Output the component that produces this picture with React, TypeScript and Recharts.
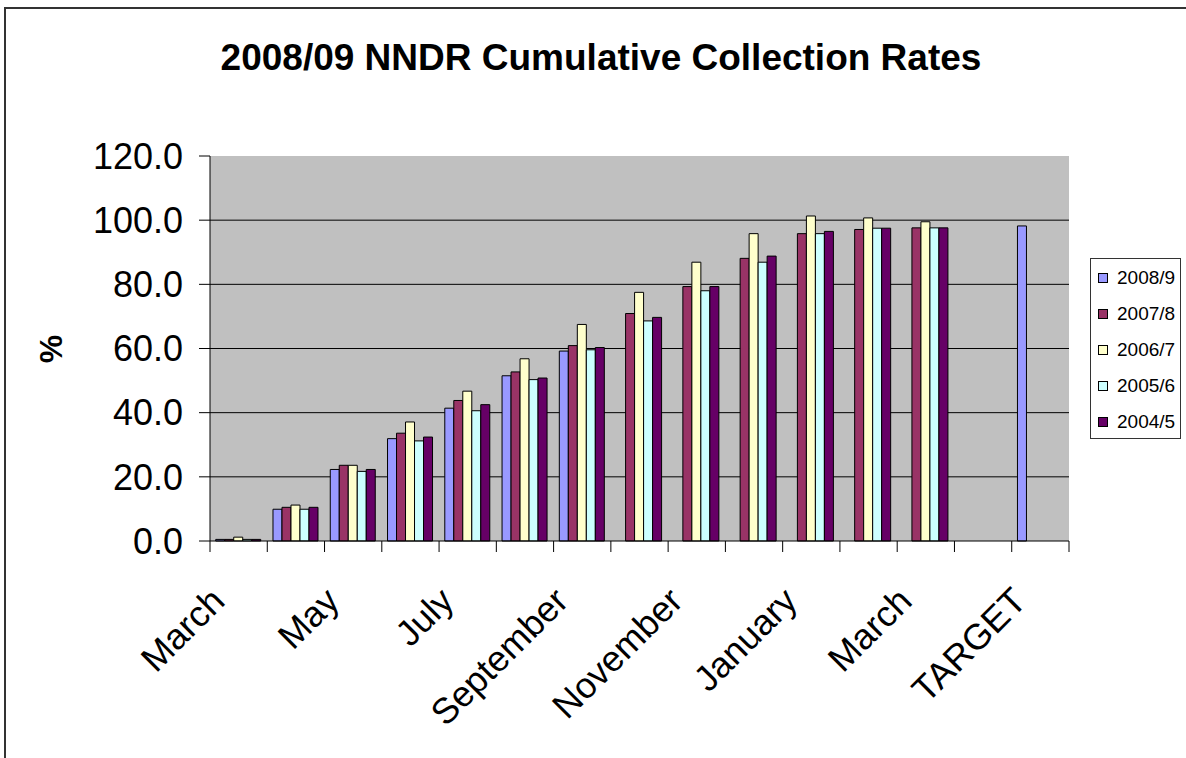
import React from 'react';
import { BarChart, Bar, XAxis, YAxis, CartesianGrid } from 'recharts';

// Cumulative NNDR collection (%) by month, one array per financial year
const months = ['March', 'April', 'May', 'June', 'July', 'August', 'September', 'October', 'November', 'December', 'January', 'February', 'March', '', 'TARGET'];
const rates0809 = [0.5, 9.9, 22.3, 31.9, 41.4, 51.5, 59.2, null, null, null, null, null, null, null, 98.2];
const rates0708 = [0.5, 10.5, 23.6, 33.6, 43.8, 52.7, 60.9, 70.9, 79.3, 88.1, 95.8, 97.1, 97.6, null, null];
const rates0607 = [1.2, 11.2, 23.6, 37.1, 46.7, 56.8, 67.5, 77.5, 86.9, 95.8, 101.3, 100.7, 99.5, null, null];
const rates0506 = [0.5, 9.9, 21.7, 31.2, 40.6, 50.3, 59.6, 68.6, 78.0, 86.9, 95.8, 97.5, 97.6, null, null];
const rates0405 = [0.5, 10.5, 22.3, 32.4, 42.5, 50.8, 60.3, 69.7, 79.3, 88.8, 96.5, 97.5, 97.6, null, null];
const yTicks = [0, 20, 40, 60, 80, 100, 120];

const series = [
  { key: 'y0809', name: '2008/9', color: '#9999FF', values: rates0809 },
  { key: 'y0708', name: '2007/8', color: '#993366', values: rates0708 },
  { key: 'y0607', name: '2006/7', color: '#FFFFCC', values: rates0607 },
  { key: 'y0506', name: '2005/6', color: '#CCFFFF', values: rates0506 },
  { key: 'y0405', name: '2004/5', color: '#660066', values: rates0405 },
];

const data = months.map((month, i) => {
  const row: Record<string, any> = { month };
  series.forEach((s) => { row[s.key] = s.values[i]; });
  return row;
});

const FONT = '"Liberation Sans", Arial, sans-serif';
const WIDTH = 1186;
const HEIGHT = 758;
const MARGIN = { top: 156, right: 117, left: 0, bottom: 0 };
const BAND = (WIDTH - 210 - MARGIN.right) / months.length;

// Excel-style category axis: tick marks sit between categories, every other label shown
const MonthTick = (props: any) => {
  const { x, y, index, payload } = props;
  const half = payload && payload.offset ? payload.offset : BAND / 2;
  const left = x - half;
  const label = index % 2 === 0 ? months[index] : '';
  const lx = x - 12;
  const ly = y + 62;
  return (
    <g>
      <line x1={left} y1={y} x2={left} y2={y + 11} stroke="#000" />
      {index === months.length - 1 && (
        <line x1={x + half} y1={y} x2={x + half} y2={y + 11} stroke="#000" />
      )}
      {label && (
        <text
          x={lx}
          y={ly}
          transform={`rotate(-45 ${lx} ${ly})`}
          textAnchor="end"
          fontSize={36}
          fontFamily={FONT}
          fill="#000"
        >
          {label}
        </text>
      )}
    </g>
  );
};

const App: React.FC = () => {
  return (
    <div style={{ position: 'absolute', left: 0, top: 0, width: WIDTH, height: HEIGHT, overflow: 'hidden', background: '#fff', fontFamily: FONT }}>
      <div style={{ position: 'absolute', left: 4, top: 7, width: WIDTH - 4, height: HEIGHT - 7, borderTop: '2px solid #333', borderLeft: '2px solid #333', boxSizing: 'border-box' }} />
      <div style={{ position: 'absolute', left: 0, top: 39, width: 1202, textAlign: 'center', fontSize: 37, lineHeight: '37px', fontWeight: 'bold', color: '#000' }}>
        2008/09 NNDR Cumulative Collection Rates
      </div>
      <BarChart
        width={WIDTH}
        height={HEIGHT}
        data={data}
        margin={MARGIN}
        barCategoryGap="10%"
        barGap={0}
        style={{ position: 'absolute', left: 0, top: 0 }}
      >
        <CartesianGrid
          vertical={false}
          horizontalValues={[20, 40, 60, 80, 100]}
          stroke="#000"
          fill="#C0C0C0"
          fillOpacity={1}
        />
        <XAxis
          dataKey="month"
          height={217}
          interval={0}
          tickLine={false}
          tickSize={0}
          tickMargin={0}
          axisLine={{ stroke: '#000' }}
          tick={<MonthTick />}
        />
        <XAxis xAxisId="top" dataKey="month" orientation="top" height={0} tick={false} tickLine={false} axisLine={{ stroke: '#808080' }} />
        <YAxis
          domain={[0, 120]}
          ticks={yTicks}
          width={210}
          interval={0}
          tickSize={11}
          tickMargin={16}
          tickFormatter={(v) => Number(v).toFixed(1)}
          tick={{ fill: '#000', fontSize: 36, fontFamily: FONT }}
          axisLine={{ stroke: '#000' }}
          tickLine={{ stroke: '#000' }}
          label={{
            content: () => (
              <text
                x={51}
                y={349}
                transform="rotate(-90 51 349)"
                textAnchor="middle"
                dominantBaseline="central"
                fontSize={32}
                fontWeight="bold"
                fontFamily={FONT}
                fill="#000"
              >
                %
              </text>
            ),
          }}
        />
        <YAxis yAxisId="right" orientation="right" width={0} domain={[0, 120]} tick={false} tickLine={false} axisLine={{ stroke: '#808080' }} />
        {series.map((s) => (
          <Bar
            key={s.key}
            dataKey={s.key}
            name={s.name}
            fill={s.color}
            stroke="#000"
            strokeWidth={1}
            isAnimationActive={false}
          />
        ))}
      </BarChart>
      <div style={{ position: 'absolute', left: 1090, top: 258, width: 91, height: 181, border: '1px solid #333', background: '#fff', boxSizing: 'border-box' }}>
        {series.map((s, i) => (
          <div key={s.key} style={{ position: 'absolute', left: 7, top: 8 + i * 36, height: 22, display: 'flex', alignItems: 'center', whiteSpace: 'nowrap' }}>
            <span style={{ width: 10, height: 10, background: s.color, border: '1px solid #000', boxSizing: 'border-box', marginRight: 9 }} />
            <span style={{ fontSize: 19, color: '#000' }}>{s.name}</span>
          </div>
        ))}
      </div>
    </div>
  );
};

export default App;
